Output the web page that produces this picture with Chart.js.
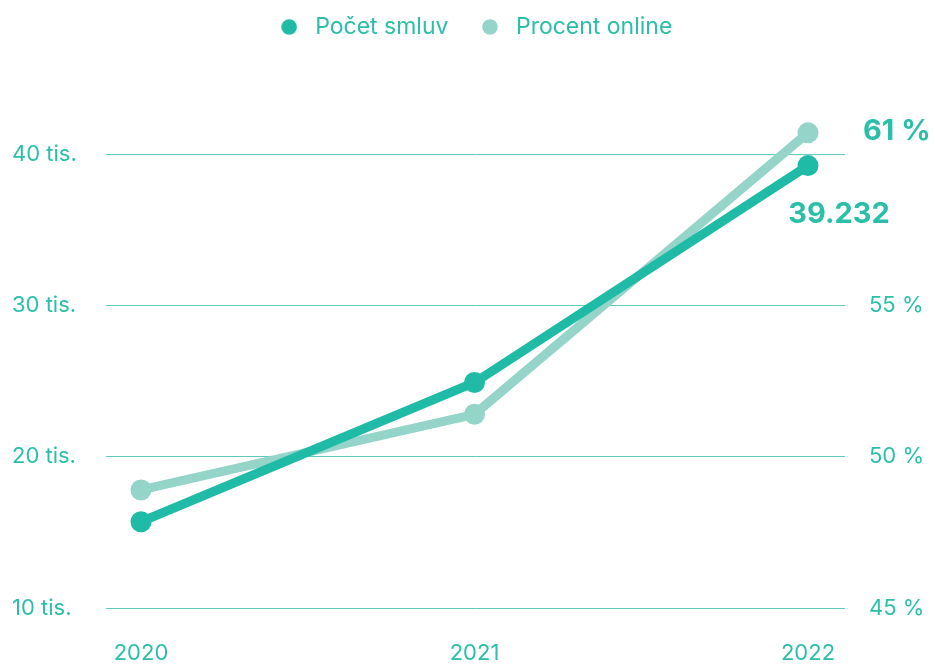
<!DOCTYPE html>
<html>
<head>
<meta charset="utf-8">
<script src="https://cdn.jsdelivr.net/npm/chart.js@4"></script>
<style>
  html, body { margin: 0; padding: 0; background: #fff; }
  #wrap { width: 935px; height: 664px; }
</style>
</head>
<body>
<div id="wrap"><canvas id="graf"></canvas></div>
<script>
const roky = [2020, 2021, 2022];
const pocetSmluv = [15700, 24900, 39232];
const procentOnline = [48.9, 51.4, 60.7];
const levaOsa = [10000, 20000, 30000, 40000];
const pravaOsa = [45, 50, 55];

const tmava = '#1fbba6';
const svetla = '#94d4c9';
const textBarva = '#2bbfa9';
const pismo = 'Inter, "Noto Sans", sans-serif';

// male kolecko do legendy
function kolecko(barva) {
  const c = document.createElement('canvas');
  c.width = 16;
  c.height = 16;
  const g = c.getContext('2d');
  g.fillStyle = barva;
  g.beginPath();
  g.arc(8, 8, 7.8, 0, Math.PI * 2);
  g.fill();
  return c;
}
const znacky = [kolecko(tmava), kolecko(svetla)];

const legendaVyska = {
  id: 'legendaVyska',
  beforeInit(chart) {
    const fit = chart.legend.fit;
    chart.legend.fit = function () {
      fit.bind(chart.legend)();
      this.height = 120.1;
    };
  }
};

const popisky = {
  id: 'popisky',
  afterDatasetsDraw(chart) {
    const ctx = chart.ctx;
    const p1 = chart.getDatasetMeta(0).data[2];
    const p2 = chart.getDatasetMeta(1).data[2];
    ctx.save();
    ctx.fillStyle = textBarva;
    ctx.font = 'bold 29px ' + pismo;
    ctx.textBaseline = 'middle';
    ctx.textAlign = 'left';
    ctx.fillText(Math.round(procentOnline[2]) + ' %', p2.x + 55, p2.y - 2);
    ctx.textAlign = 'center';
    ctx.fillText(pocetSmluv[2].toLocaleString('de-DE'), p1.x + 31, p1.y + 49);
    ctx.restore();
  }
};

new Chart(document.getElementById('graf'), {
  type: 'line',
  data: {
    datasets: [{
      label: 'Počet smluv',
      data: roky.map((r, i) => ({ x: r, y: pocetSmluv[i] })),
      yAxisID: 'y',
      borderColor: tmava,
      backgroundColor: tmava,
      pointBackgroundColor: tmava,
      pointBorderWidth: 0,
      borderWidth: 9,
      pointRadius: 10.5,
      tension: 0
    }, {
      label: 'Procent online',
      data: roky.map((r, i) => ({ x: r, y: procentOnline[i] })),
      yAxisID: 'y2',
      borderColor: svetla,
      backgroundColor: svetla,
      pointBackgroundColor: svetla,
      pointBorderWidth: 0,
      borderWidth: 9,
      pointRadius: 10.5,
      tension: 0
    }]
  },
  options: {
    responsive: true,
    maintainAspectRatio: false,
    animation: false,
    layout: { padding: { left: 12, right: 0, top: -11.5, bottom: 0 } },
    plugins: {
      legend: {
        position: 'top',
        labels: {
          usePointStyle: true,
          pointStyleWidth: 29,
          boxHeight: 16,
          padding: 27,
          color: textBarva,
          font: { family: pismo, size: 23 },
          generateLabels(chart) {
            const items = Chart.defaults.plugins.legend.labels.generateLabels(chart);
            items.forEach((it, i) => { it.pointStyle = znacky[i]; });
            return items;
          }
        }
      },
      tooltip: { enabled: false }
    },
    scales: {
      x: {
        type: 'linear',
        min: 2020 - 35 / 333.5,
        max: 2022 + 37 / 333.5,
        afterBuildTicks: (s) => { s.ticks = roky.map(v => ({ value: v })); },
        afterFit: (s) => { s.height = 56; },
        grid: { display: false },
        border: { display: false },
        ticks: {
          color: textBarva,
          padding: 24,
          font: { family: pismo, size: 22 },
          callback: (v) => String(v)
        }
      },
      y: {
        position: 'left',
        min: 10000,
        max: 43000,
        afterBuildTicks: (s) => { s.ticks = levaOsa.map(v => ({ value: v })); },
        afterFit: (s) => { s.width = 94; },
        grid: { color: '#5ccbb9', lineWidth: 1, drawTicks: false },
        border: { display: false },
        ticks: {
          color: textBarva,
          crossAlign: 'far',
          font: { family: pismo, size: 22 },
          callback: (v) => (v / 1000) + ' tis.'
        }
      },
      y2: {
        position: 'right',
        min: 45,
        max: 61.5,
        afterBuildTicks: (s) => { s.ticks = pravaOsa.map(v => ({ value: v })); },
        afterFit: (s) => { s.width = 90; },
        grid: { display: false },
        border: { display: false },
        ticks: {
          color: textBarva,
          padding: 16,
          font: { family: pismo, size: 22 },
          callback: (v) => v + ' %'
        }
      }
    }
  },
  plugins: [legendaVyska, popisky]
});
</script>
</body>
</html>
